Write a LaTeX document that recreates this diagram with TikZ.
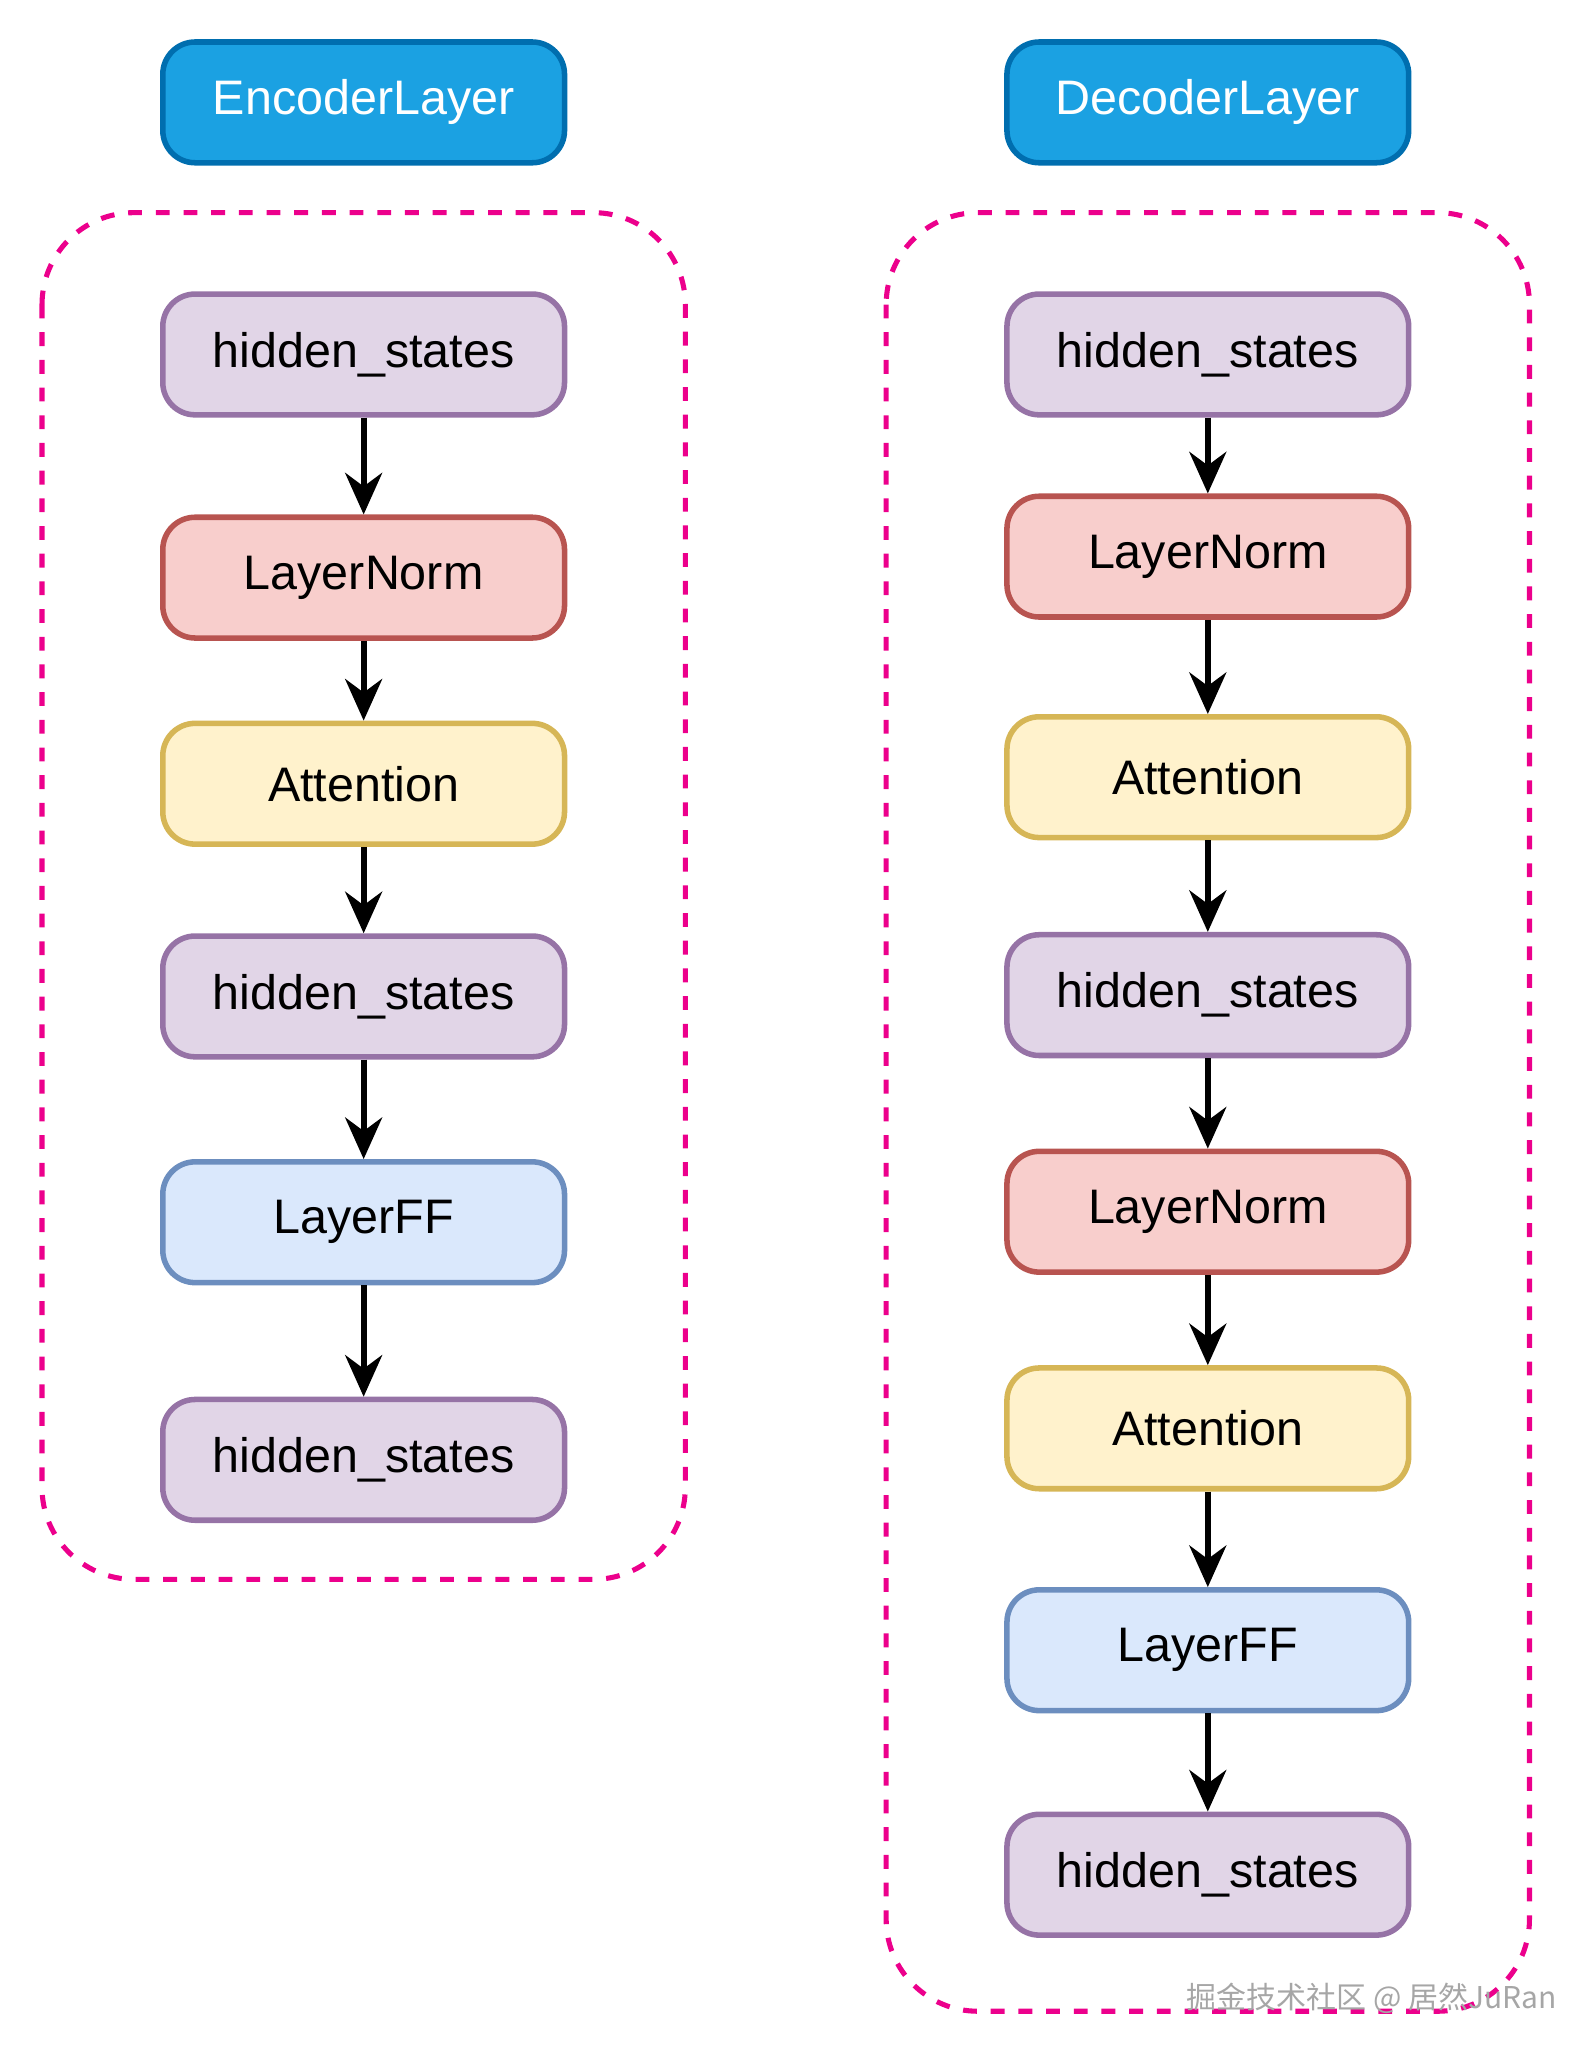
\documentclass[tikz,border=0pt]{standalone}
\usepackage{fontspec}
\setmainfont{Liberation Sans}
\newfontfamily\cjk{Noto Sans CJK SC}
\usetikzlibrary{arrows.meta}
\definecolor{purf}{HTML}{E1D5E7}\definecolor{purd}{HTML}{9673A6}
\definecolor{redf}{HTML}{F8CECC}\definecolor{redd}{HTML}{B85450}
\definecolor{yelf}{HTML}{FFF2CC}\definecolor{yeld}{HTML}{D6B656}
\definecolor{bluf}{HTML}{DAE8FC}\definecolor{blud}{HTML}{6C8EBF}
\definecolor{hdrf}{HTML}{1BA1E2}\definecolor{hdrd}{HTML}{006EAF}
\tikzset{
  box/.style={draw,line width=1.2pt,rounded corners=7pt,minimum width=3.06cm,
    minimum height=0.92cm,font=\fontsize{10.5}{12}\selectfont},
  hs/.style={box,fill=purf,draw=purd},
  ln/.style={box,fill=redf,draw=redd},
  att/.style={box,fill=yelf,draw=yeld},
  ff/.style={box,fill=bluf,draw=blud},
  hdr/.style={box,fill=hdrf,draw=hdrd,text=white},
  flow/.style={-{Stealth[length=9pt,width=8pt]},line width=1.3pt},
  frame/.style={draw=magenta,dashed,line width=1.1pt,rounded corners=0.7cm}
}
\begin{document}
\begin{tikzpicture}[y=-1cm]
\useasboundingbox (0,0) rectangle (11.95,15.6);
% encoder
\node[hdr] (enc) at (2.77,0.78) {EncoderLayer};
\draw[frame] (0.32,1.62) rectangle (5.22,12.03);
\node[hs]  (e1) at (2.77,2.70) {hidden\_states};
\node[ln]  (e2) at (2.77,4.40) {LayerNorm};
\node[att] (e3) at (2.77,5.97) {Attention};
\node[hs]  (e4) at (2.77,7.59) {hidden\_states};
\node[ff]  (e5) at (2.77,9.31) {LayerFF};
\node[hs]  (e6) at (2.77,11.12) {hidden\_states};
\foreach \a/\b in {e1/e2,e2/e3,e3/e4,e4/e5,e5/e6}
  \draw[flow] (\a) -- (\b);
% decoder
\node[hdr] (dec) at (9.20,0.78) {DecoderLayer};
\draw[frame] (6.75,1.62) rectangle (11.65,15.32);
\node[hs]  (d1) at (9.20,2.70) {hidden\_states};
\node[ln]  (d2) at (9.20,4.24) {LayerNorm};
\node[att] (d3) at (9.20,5.92) {Attention};
\node[hs]  (d4) at (9.20,7.58) {hidden\_states};
\node[ln]  (d5) at (9.20,9.23) {LayerNorm};
\node[att] (d6) at (9.20,10.88) {Attention};
\node[ff]  (d7) at (9.20,12.57) {LayerFF};
\node[hs]  (d8) at (9.20,14.28) {hidden\_states};
\foreach \a/\b in {d1/d2,d2/d3,d3/d4,d4/d5,d5/d6,d6/d7,d7/d8}
  \draw[flow] (\a) -- (\b);
% watermark
\node[text=gray!70,font=\cjk\fontsize{6.5}{7}\selectfont] (wm) at (10.45,15.22) {掘金技术社区 @ 居然JuRan};
\end{tikzpicture}
\end{document}
